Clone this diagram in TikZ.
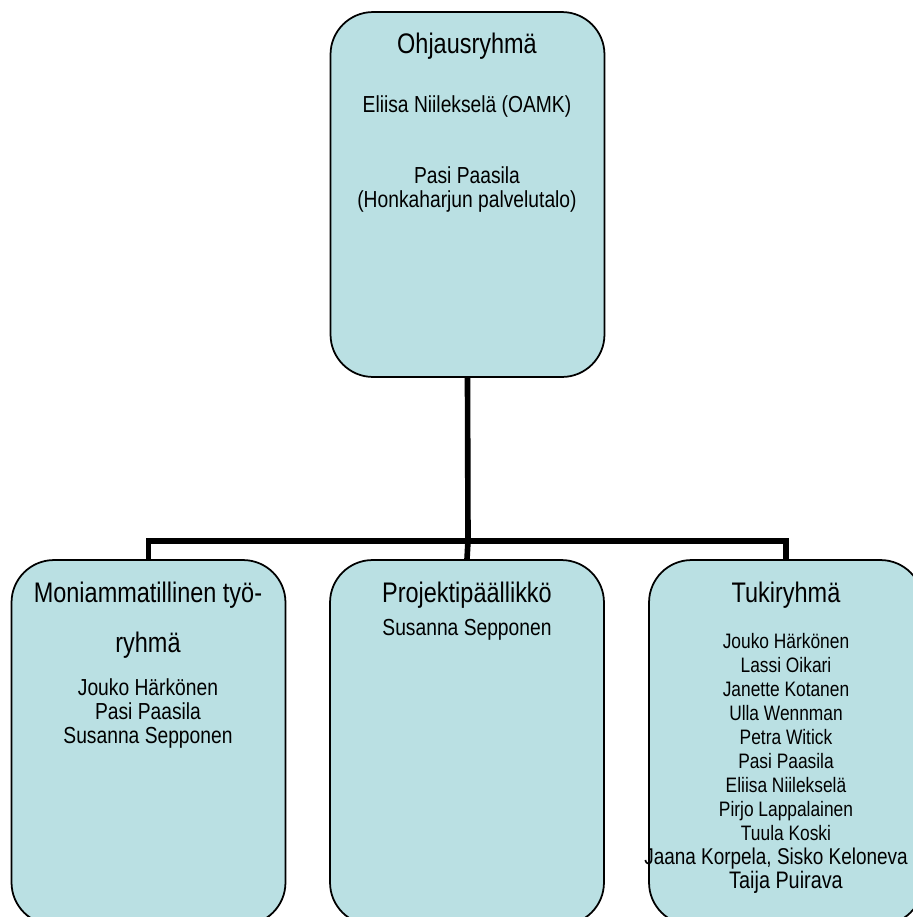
\documentclass[tikz,border=0pt]{standalone}
\usepackage{fontspec}
\setmainfont{Liberation Sans}[FakeStretch=0.83]
\definecolor{boxblue}{RGB}{186,224,227}
\begin{document}
\begin{tikzpicture}[x=0.02cm, y=-0.02cm,
  box/.style={shape=rectangle, draw=black, fill=boxblue, line width=1pt, rounded corners=0.85cm, minimum width=5.48cm, minimum height=7.3cm},
  conn/.style={line width=3.2pt, draw=black, line join=miter},
  head/.style={font=\fontsize{16.1}{18}\selectfont, inner sep=0pt, anchor=base},
  names/.style={font=\fontsize{13.2}{13.6}\selectfont, inner sep=0pt, anchor=base, align=center},
  small/.style={font=\fontsize{11.9}{13.66}\selectfont, inner sep=0pt, anchor=base, align=center}]
\useasboundingbox (0,0) rectangle (913,917);
\node[box] (ohjaus) at (467.5,194.5) {};
\node[box] (moni) at (148.5,742.5) {};
\node[box] (projekti) at (467,742.5) {};
\node[box] (tuki) at (786,742.5) {};
\coordinate (bar) at (468,541);
\draw[conn] (ohjaus.south) -- (bar);
\draw[conn] (moni.north) |- (bar) -| (tuki.north);
\draw[conn] (bar) -- (projekti.north);
\node[head] (ohjausT) at (467,53) {Ohjausryhmä};
\node[names] (ohjausA) at (467,112) {Eliisa Niilekselä (OAMK)};
\node[names] (ohjausB) at (467,207) {Pasi Paasila\\(Honkaharjun palvelutalo)};
\node[head] (moniT) at (148,602) {Moniammatillinen työ-};
\node[head] (moniU) at (148,652) {ryhmä};
\node[names] (moniA) at (148,743) {Jouko Härkönen\\Pasi Paasila\\Susanna Sepponen};
\node[head] (projektiT) at (467,602) {Projektipäällikkö};
\node[names] (projektiA) at (467,635) {Susanna Sepponen};
\node[head] (tukiT) at (786,602) {Tukiryhmä};
\node[small] (tukiA) at (786,888) {Jouko Härkönen\\Lassi Oikari\\Janette Kotanen\\Ulla Wennman\\Petra Witick\\Pasi Paasila\\Eliisa Niilekselä\\Pirjo Lappalainen\\Tuula Koski\\{\fontsize{13}{13.66}\selectfont\hspace*{-0.4cm}Jaana Korpela, Sisko Keloneva}\\{\fontsize{13.6}{13.66}\selectfont Taija Puirava}};
\end{tikzpicture}
\end{document}
